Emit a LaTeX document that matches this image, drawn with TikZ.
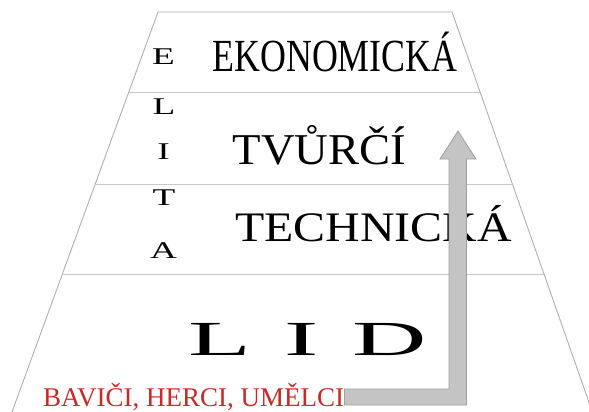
\documentclass[tikz,border=0pt]{standalone}
\usepackage{fontspec}
\setmainfont{Liberation Serif}
\definecolor{edgegray}{RGB}{175,175,175}
\definecolor{levelgray}{RGB}{200,200,200}
\definecolor{arrowfill}{RGB}{196,196,196}
\definecolor{arrowline}{RGB}{160,160,160}
\definecolor{redtext}{RGB}{200,40,40}
\tikzset{
  side/.style={draw=edgegray, line width=0.9pt},
  level/.style={draw=levelgray, line width=1pt},
  label/.style={inner sep=0pt, anchor=base, text=black},
  elita/.style={label},
  bigarrow/.style={fill=arrowfill, draw=arrowline, line width=0.8pt, line join=miter}
}
\newcommand{\fs}[1]{\fontsize{#1}{#1}\selectfont}
\begin{document}
\begin{tikzpicture}[x=1pt, y=-1pt]
\useasboundingbox (0,0) rectangle (589,412);
\begin{scope}
\clip (0,0) rectangle (589,412);
% pyramid corners
\coordinate (tl) at (158,12);
\coordinate (tr) at (452,12);
\coordinate (l1) at (128.8,92);
\coordinate (r1) at (480.1,92);
\coordinate (l2) at (95.2,184);
\coordinate (r2) at (512.4,184);
\coordinate (l3) at (62.4,274);
\coordinate (r3) at (544,274);
\coordinate (bl) at (12,412);
\coordinate (br) at (592.4,412);
\draw[side] (bl) -- (tl) -- (tr) -- (br);
\draw[level] (l1) -- (r1);
\draw[level] (l2) -- (r2);
\draw[level] (l3) -- (r3);
\end{scope}
% ELITA
\node[elita] (e) at (163.5,65) {\fs{24}\scalebox{1.55}[1]{E}};
\node[elita] (l) at (164,114) {\fs{24}\scalebox{1.55}[1]{L}};
\node[elita] (i) at (163.5,159) {\fs{24}\scalebox{1.55}[1]{I}};
\node[elita] (t) at (164,205) {\fs{24}\scalebox{1.55}[1]{T}};
\node[elita] (a) at (163.5,258) {\fs{24}\scalebox{1.55}[1]{A}};
% level names
\node[label] (eko) at (335,72) {\fs{46}\scalebox{0.78}[1]{EKONOMICKÁ}};
\node[label] (tvu) at (319.5,164) {\fs{44}\scalebox{1.06}[1]{TVŮRČÍ}};
\node[label] (tech) at (373.5,241) {\fs{42}\scalebox{1.14}[1]{TECHNICKÁ}};
\node[label] (lid) at (307.5,355) {\fs{49}\scalebox{2.1}[1]{L\hspace{16pt}I\hspace{16pt}D}};
\node[label, text=redtext, anchor=base west] (bav) at (43,406) {\fs{27}BAVIČI, HERCI, UMĚLCI};
% arrow
\draw[bigarrow] (bav.east |- 0,389) -- (449,389) -- (449,159) -- (440,159) -- (458,131)
  -- (476,159) -- (466.5,159) -- (466.5,405) -- (bav.east |- 0,405) -- cycle;
\end{tikzpicture}
\end{document}
